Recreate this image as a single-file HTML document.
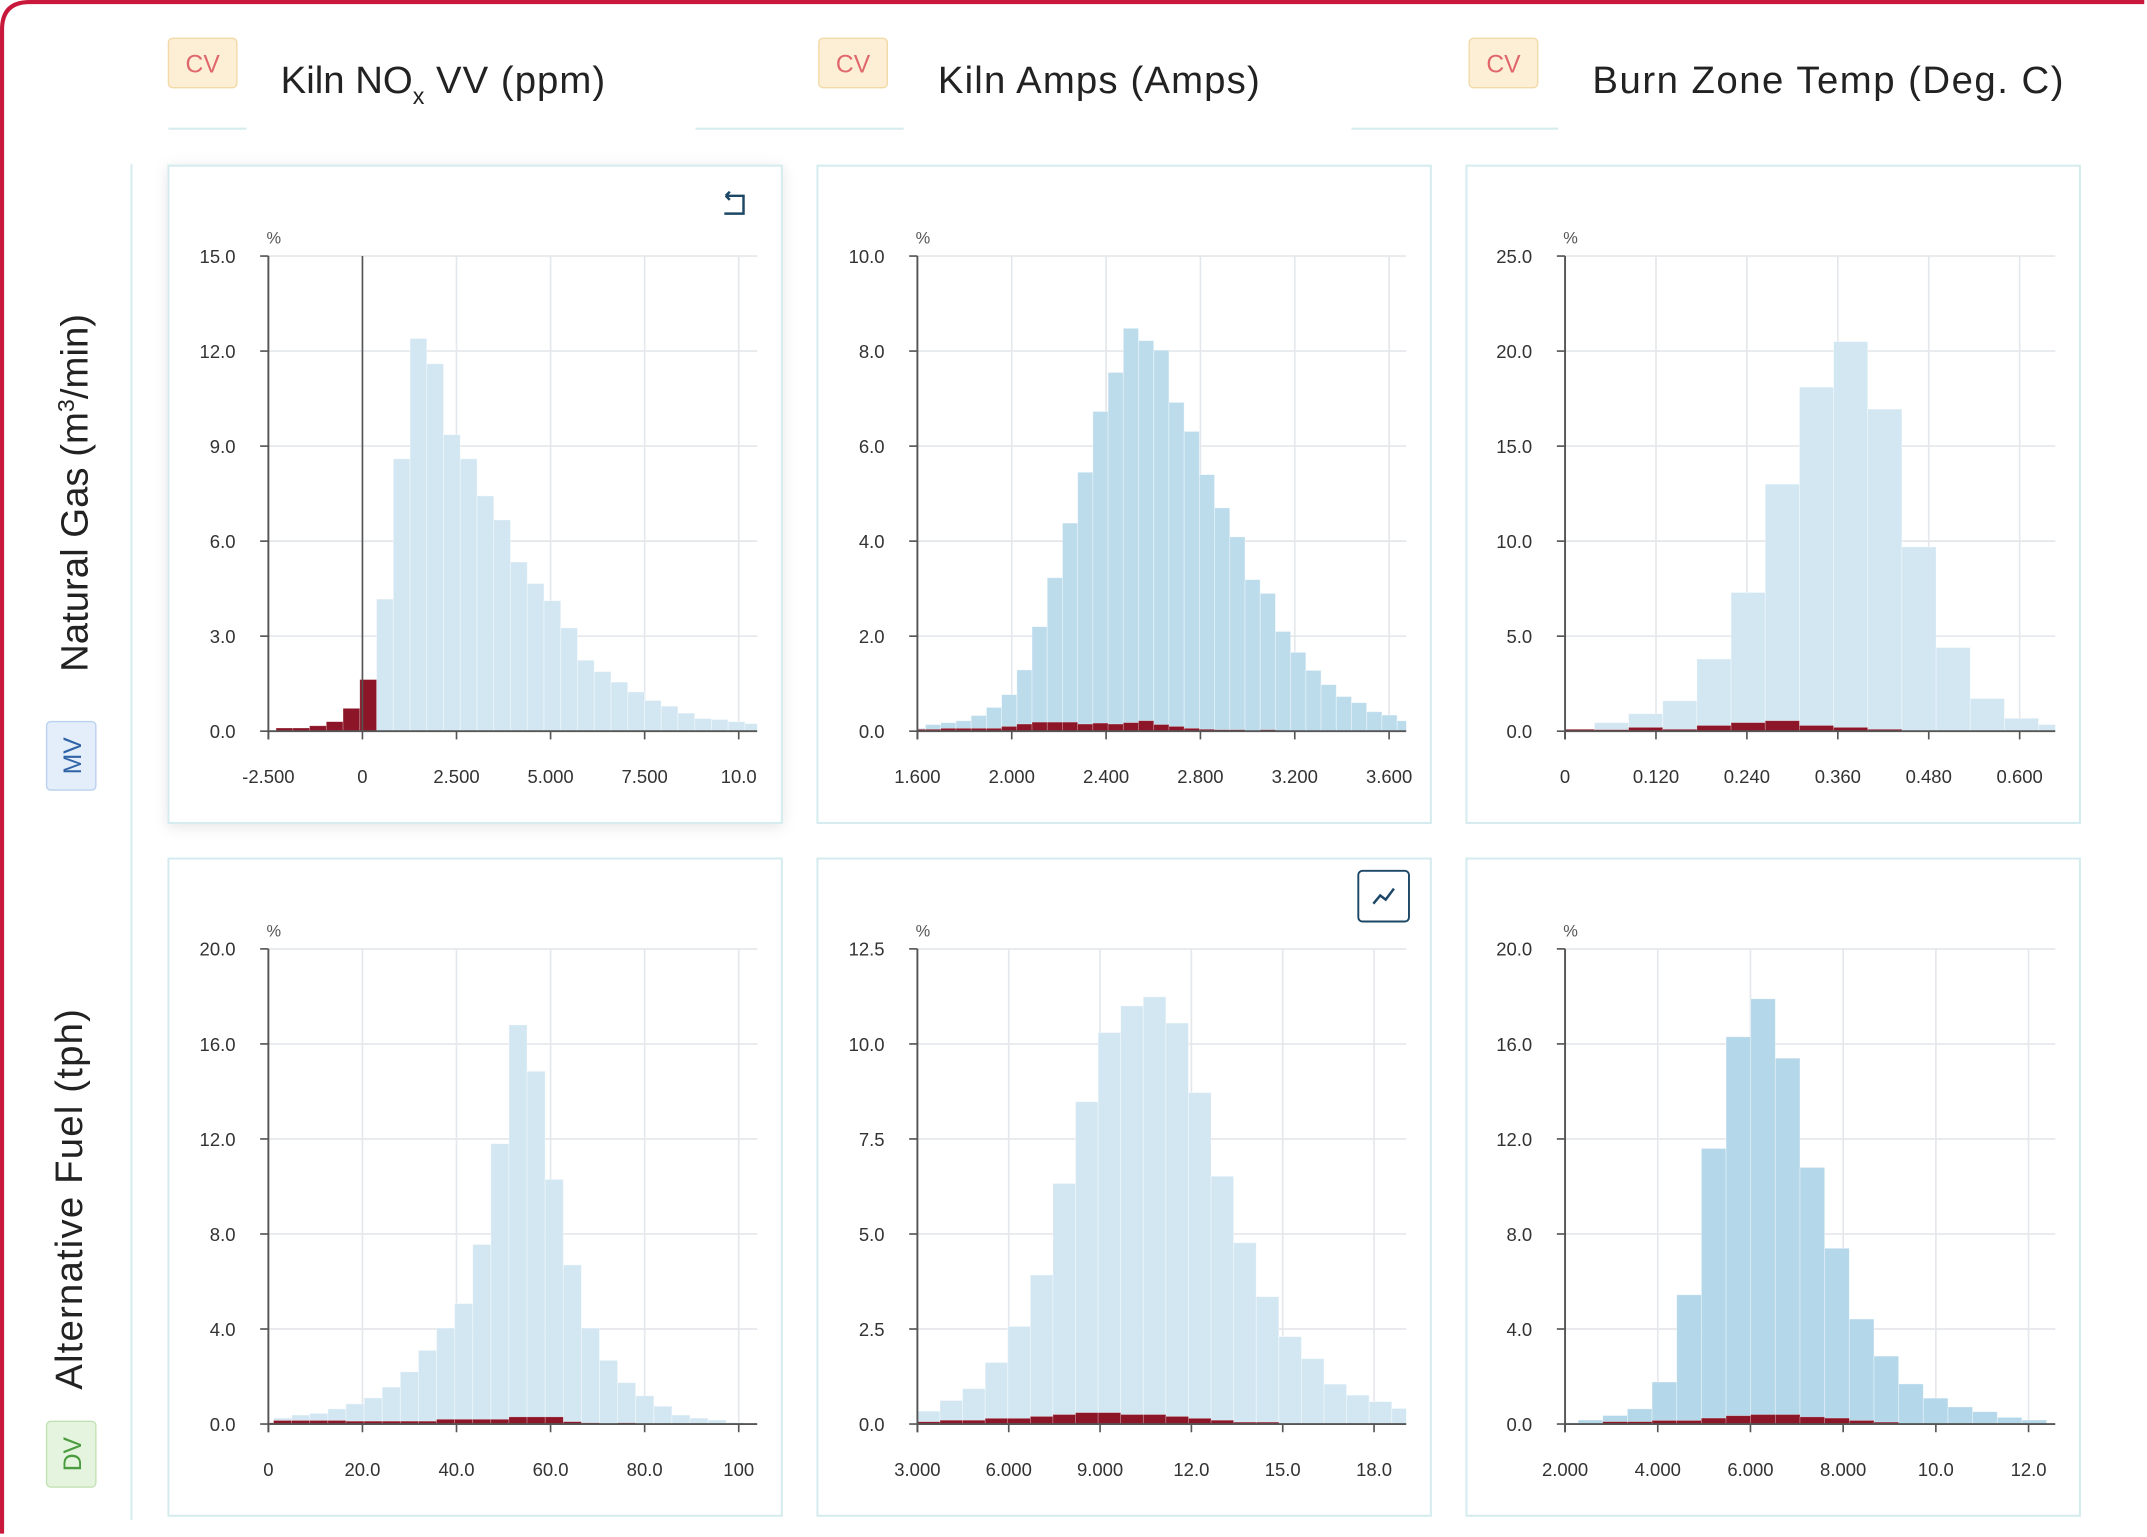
<!DOCTYPE html>
<html><head><meta charset="utf-8">
<style>
html,body{margin:0;padding:0;background:#fff;width:2147px;height:1537px;overflow:hidden;}
svg{display:block;overflow:hidden;}
text{font-family:"Liberation Sans",sans-serif;}
</style></head>
<body>
<svg id="root" width="2147" height="1537" viewBox="0 0 1568 1122.5" preserveAspectRatio="none" xmlns="http://www.w3.org/2000/svg">
<defs>
<filter id="sh" x="-10%" y="-10%" width="120%" height="120%"><feDropShadow dx="0" dy="2" stdDeviation="5" flood-color="#000" flood-opacity="0.10"/></filter>
</defs>
<path d="M1.5 1120 L1.5 21.5 Q1.5 1.5 21.5 1.5 L1566 1.5" fill="none" stroke="#c8193c" stroke-width="3"/>

<!-- column headers -->
<g>
<rect x="123" y="28" width="50" height="36" rx="3" fill="#fcefd6" stroke="#f2d9a6"/>
<text x="148" y="53" font-size="18" fill="#e0676b" text-anchor="middle">CV</text>
<text x="205" y="68" font-size="28" fill="#222">Kiln NO<tspan font-size="17" dy="8">x</tspan><tspan dy="-8" textLength="132" lengthAdjust="spacing"> VV (ppm)</tspan></text>
</g>
<g>
<rect x="598" y="28" width="50" height="36" rx="3" fill="#fcefd6" stroke="#f2d9a6"/>
<text x="623" y="53" font-size="18" fill="#e0676b" text-anchor="middle">CV</text>
<text x="685" y="68" font-size="28" fill="#222" textLength="235" lengthAdjust="spacing">Kiln Amps (Amps)</text>
</g>
<g>
<rect x="1073" y="28" width="50" height="36" rx="3" fill="#fcefd6" stroke="#f2d9a6"/>
<text x="1098" y="53" font-size="18" fill="#e0676b" text-anchor="middle">CV</text>
<text x="1163" y="68" font-size="28" fill="#222" textLength="344" lengthAdjust="spacing">Burn Zone Temp (Deg. C)</text>
</g>
<g stroke="#d6ecef" stroke-width="1.5">
<line x1="123" y1="94" x2="180" y2="94"/><line x1="508" y1="94" x2="660" y2="94"/><line x1="987" y1="94" x2="1138" y2="94"/>
</g>

<!-- row labels -->
<line x1="96" y1="120" x2="96" y2="1110" stroke="#d6ecef" stroke-width="1.5"/>
<text transform="translate(64,360) rotate(-90)" font-size="28" fill="#222" text-anchor="middle">Natural Gas (m<tspan font-size="17" dy="-10">3</tspan><tspan dy="10">/min)</tspan></text>
<g>
<rect x="34" y="527" width="36" height="50" rx="3" fill="#e3eefa" stroke="#b9d1ee"/>
<text transform="translate(59,552) rotate(-90)" font-size="18" fill="#2f63a6" text-anchor="middle">MV</text>
</g>
<text transform="translate(60,876) rotate(-90)" font-size="28" fill="#222" text-anchor="middle" textLength="278" lengthAdjust="spacing">Alternative Fuel (tph)</text>
<g>
<rect x="34" y="1038" width="36" height="48" rx="3" fill="#e5f4de" stroke="#c2e2b3"/>
<text transform="translate(59,1062) rotate(-90)" font-size="18" fill="#4b9b3f" text-anchor="middle">DV</text>
</g>

<g id="charts"></g>
</svg>

<script>
// ---- Chart data (histogram bins: start, width; percent values) ----
const noxBinStart = -2.295, noxBinWidth = 0.445;
const noxAll    = [0,0,0,0,0,0,4.17,8.6,12.4,11.6,9.36,8.6,7.43,6.67,5.34,4.66,4.12,3.26,2.24,1.88,1.55,1.24,0.97,0.79,0.57,0.4,0.37,0.3,0.24];
const noxSubset = [0.1,0.1,0.17,0.3,0.72,1.63,0,0,0,0,0,0,0,0,0,0,0,0,0,0,0,0,0,0,0,0,0,0,0];
const noxYTicks = [0,3,6,9,12,15];
const noxXTicks = [-2.5,0,2.5,5,7.5,10];
const noxXLabels = ["-2.500","0","2.500","5.000","7.500","10.0"];

const ampsBinStart = 1.570, ampsBinWidth = 0.0645;
const ampsAll    = [0.06,0.14,0.18,0.22,0.33,0.5,0.77,1.29,2.2,3.23,4.38,5.45,6.73,7.55,8.48,8.22,8.02,6.92,6.31,5.4,4.7,4.09,3.19,2.9,2.1,1.66,1.28,0.98,0.73,0.6,0.41,0.34,0.22];
const ampsSubset = [0.04,0.04,0.06,0.06,0.06,0.06,0.1,0.15,0.19,0.19,0.19,0.15,0.17,0.15,0.18,0.22,0.14,0.1,0.06,0.04,0.03,0.03,0,0.03,0,0,0,0,0,0,0,0,0];
const ampsYTicks = [0,2,4,6,8,10];
const ampsXTicks = [1.6,2.0,2.4,2.8,3.2,3.6];
const ampsXLabels = ["1.600","2.000","2.400","2.800","3.200","3.600"];

const burnBinStart = -0.0064, burnBinWidth = 0.0451;
const burnAll    = [0.06,0.45,0.92,1.6,3.8,7.3,13.0,18.1,20.5,16.95,9.7,4.4,1.72,0.68,0.35];
const burnSubset = [0.1,0.08,0.2,0.1,0.3,0.45,0.55,0.3,0.2,0.1,0,0,0,0,0];
const burnYTicks = [0,5,10,15,20,25];
const burnXTicks = [0,0.12,0.24,0.36,0.48,0.6];
const burnXLabels = ["0","0.120","0.240","0.360","0.480","0.600"];

const fuelBinStart = -2.75, fuelBinWidth = 3.85;
const fuelAll    = [0.05,0.25,0.38,0.45,0.64,0.85,1.1,1.55,2.2,3.1,4.04,5.07,7.56,11.8,16.8,14.85,10.3,6.7,4.04,2.68,1.74,1.19,0.75,0.38,0.25,0.17,0.06,0.02];
const fuelSubset = [0.05,0.15,0.15,0.15,0.15,0.12,0.12,0.12,0.12,0.12,0.2,0.2,0.2,0.2,0.3,0.3,0.3,0.1,0.05,0.02,0.05,0.02,0,0,0,0,0,0];
const fuelYTicks = [0,4,8,12,16,20];
const fuelXTicks = [0,20,40,60,80,100];
const fuelXLabels = ["0","20.0","40.0","60.0","80.0","100"];

const amps2BinStart = 3.0, amps2BinWidth = 0.742;
const amps2All    = [0.34,0.62,0.93,1.62,2.57,3.92,6.33,8.48,10.3,11.0,11.24,10.55,8.72,6.52,4.77,3.35,2.3,1.72,1.05,0.76,0.59,0.41];
const amps2Subset = [0.06,0.1,0.1,0.15,0.15,0.2,0.25,0.3,0.3,0.25,0.25,0.2,0.15,0.1,0.05,0.05,0,0,0,0,0,0];
const amps2YTicks = [0,2.5,5,7.5,10,12.5];
const amps2XTicks = [3,6,9,12,15,18];
const amps2XLabels = ["3.000","6.000","9.000","12.0","15.0","18.0"];

const burn2BinStart = 1.749, burn2BinWidth = 0.532;
const burn2All    = [0.05,0.17,0.36,0.64,1.77,5.44,11.6,16.3,17.9,15.4,10.8,7.4,4.42,2.86,1.69,1.09,0.72,0.52,0.28,0.17];
const burn2Subset = [0,0,0.1,0.1,0.15,0.15,0.25,0.35,0.4,0.4,0.3,0.25,0.15,0.08,0,0,0,0,0,0];
const burn2YTicks = [0,4,8,12,16,20];
const burn2XTicks = [2,4,6,8,10,12];
const burn2XLabels = ["2.000","4.000","6.000","8.000","10.0","12.0"];

// ---- layout (positions, styles) ----
const NS = "http://www.w3.org/2000/svg";
const root = document.getElementById('charts');
function mk(tag, attrs, parent){ const e=document.createElementNS(NS,tag); for(const k in attrs) e.setAttribute(k,attrs[k]); (parent||root).appendChild(e); return e; }

const charts = [
 {id:'nox', px:123, py:121, ax:196, rightPx:553, xMin:-2.5, xPerTick:68.7, tickStep:2.5, top:187, base:534,
  bs:noxBinStart, bw:noxBinWidth, all:noxAll, sub:noxSubset, yt:noxYTicks, xt:noxXTicks, xl:noxXLabels, color:'#d3e7f2', shadow:true, zeroLine:0, icon:'undo'},
 {id:'amps', px:597, py:121, ax:670, rightPx:1027, xMin:1.6, xPerTick:68.9, tickStep:0.4, top:187, base:534,
  bs:ampsBinStart, bw:ampsBinWidth, all:ampsAll, sub:ampsSubset, yt:ampsYTicks, xt:ampsXTicks, xl:ampsXLabels, color:'#bcdcec'},
 {id:'burn', px:1071, py:121, ax:1143, rightPx:1501, xMin:0, xPerTick:66.4, tickStep:0.12, top:187, base:534,
  bs:burnBinStart, bw:burnBinWidth, all:burnAll, sub:burnSubset, yt:burnYTicks, xt:burnXTicks, xl:burnXLabels, color:'#d3e7f2'},
 {id:'fuel', px:123, py:627, ax:196, rightPx:553, xMin:0, xPerTick:68.7, tickStep:20, top:693, base:1040,
  bs:fuelBinStart, bw:fuelBinWidth, all:fuelAll, sub:fuelSubset, yt:fuelYTicks, xt:fuelXTicks, xl:fuelXLabels, color:'#d3e7f2'},
 {id:'amps2', px:597, py:627, ax:670, rightPx:1027, xMin:3, xPerTick:66.7, tickStep:3, top:693, base:1040,
  bs:amps2BinStart, bw:amps2BinWidth, all:amps2All, sub:amps2Subset, yt:amps2YTicks, xt:amps2XTicks, xl:amps2XLabels, color:'#d3e7f2', icon:'trend'},
 {id:'burn2', px:1071, py:627, ax:1143, rightPx:1501, xMin:2, xPerTick:67.7, tickStep:2, top:693, base:1040,
  bs:burn2BinStart, bw:burn2BinWidth, all:burn2All, sub:burn2Subset, yt:burn2YTicks, xt:burn2XTicks, xl:burn2XLabels, color:'#b4d7e9'}
];

charts.forEach(c=>{
  const g = mk('g',{});
  
  
  const card = mk('rect',{x:c.px,y:c.py,width:448,height:480,fill:'#fff',stroke:'#d5ecef','stroke-width':1.5},g);
  if(c.shadow) card.setAttribute('filter','url(#sh)');
  
  
  const xs = v => c.ax + (v - c.xMin) * c.xPerTick / c.tickStep;
  const yMax = c.yt[c.yt.length-1];
  const ys = v => c.base - v * (c.base - c.top) / yMax;
  const clipId = 'clip-' + c.id;
  const cp = mk('clipPath',{id:clipId},g);
  mk('rect',{x:c.ax,y:c.top-2,width:c.rightPx-c.ax,height:c.base-c.top+2},cp);
  c.yt.forEach(t=>{ if(t===0) return;
    const l = mk('line',{x1:c.ax,x2:c.rightPx,y1:ys(t),y2:ys(t),stroke:'#e4e7eb','stroke-width':1.2},g);
    
    
  });
  c.xt.forEach(t=>{ if(xs(t)<=c.ax+1) return;
    const l = mk('line',{x1:xs(t),x2:xs(t),y1:c.top,y2:c.base,stroke:'#e4e7eb','stroke-width':1.2},g);
    
    
  });
  const bg = mk('g',{'clip-path':'url(#'+clipId+')'},g);
  c.all.forEach((v,i)=>{ if(v<=0) return;
    const x0 = xs(c.bs + i*c.bw), x1 = xs(c.bs + (i+1)*c.bw);
    const r = mk('rect',{x:x0,y:ys(v),width:x1-x0,height:c.base-ys(v),fill:c.color,stroke:'#ffffff','stroke-opacity':0.45,'stroke-width':0.6},bg);
    
    
  });
  c.sub.forEach((v,i)=>{ if(v<=0) return;
    const x0 = xs(c.bs + i*c.bw), x1 = xs(c.bs + (i+1)*c.bw);
    const r = mk('rect',{x:x0,y:ys(v),width:x1-x0,height:c.base-ys(v),fill:'#8c1527',stroke:'#ffffff','stroke-opacity':0.35,'stroke-width':0.5},bg);
    
    
  });
  const yAx = mk('line',{x1:c.ax,x2:c.ax,y1:c.top,y2:c.base+6,stroke:'#555','stroke-width':1.4},g);
  
  
  const xAx = mk('line',{x1:c.ax,x2:c.rightPx,y1:c.base,y2:c.base,stroke:'#555','stroke-width':1.4},g);
  
  
  if(c.zeroLine!==undefined){
    const z = mk('line',{x1:xs(c.zeroLine),x2:xs(c.zeroLine),y1:c.top,y2:c.base,stroke:'#555','stroke-width':1.2},g);
    
    
  }
  const pct = mk('text',{x:c.ax+4,y:c.top-9,'font-size':12,fill:'#555','text-anchor':'middle'},g);
  pct.textContent = '%';
  
  
  c.yt.forEach(t=>{
    mk('line',{x1:c.ax-6,x2:c.ax,y1:ys(t),y2:ys(t),stroke:'#555','stroke-width':1.2},g);
    const tx = mk('text',{x:c.ax-24,y:ys(t)+5,'font-size':13.5,fill:'#333','text-anchor':'end'},g);
    tx.textContent = t.toFixed(1);
    
    
  });
  c.xt.forEach((t,i)=>{
    mk('line',{x1:xs(t),x2:xs(t),y1:c.base,y2:c.base+6,stroke:'#555','stroke-width':1.2},g);
    const tx = mk('text',{x:xs(t),y:c.base+38,'font-size':13.5,fill:'#333','text-anchor':'middle'},g);
    tx.textContent = c.xl[i];
    
    
  });
  if(c.icon==='undo'){
    const ic = mk('path',{d:'M530 143 L543 143 L543 156 L529 156 M530 143 l3 -3 M530 143 l3 3',fill:'none',stroke:'#1d4766','stroke-width':1.8},g);
    
    
  }
  if(c.icon==='trend'){
    const ib = mk('g',{},g);
    
    
    mk('rect',{x:992,y:636,width:37,height:37,rx:3,fill:'#fff',stroke:'#1d4766','stroke-width':1.4},ib);
    mk('path',{d:'M1003 660 L1008 654 L1012 657 L1018 649',fill:'none',stroke:'#1d4766','stroke-width':1.8},ib);
  }
});
</script>
</body></html>
